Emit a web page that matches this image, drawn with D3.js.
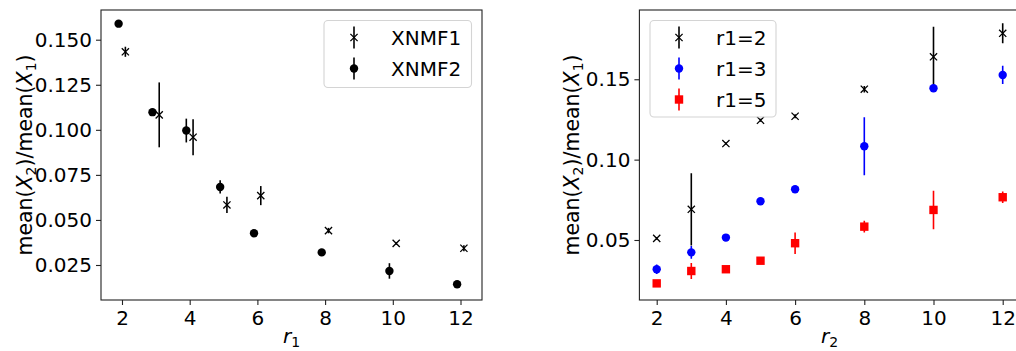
<!DOCTYPE html>
<html><head><meta charset="utf-8">
<script src="https://cdn.jsdelivr.net/npm/d3@7"></script>
<style>
html,body{margin:0;padding:0;background:#fff;}
svg{display:block;font-family:"DejaVu Sans",sans-serif;}
</style></head>
<body>
<svg id="c" width="1016" height="351"></svg>
<script>
// ---- Left panel data ----
const leftXTicks = [2, 4, 6, 8, 10, 12];
const leftYTicks = [0.025, 0.050, 0.075, 0.100, 0.125, 0.150];
const xnmf1X   = [2.1, 3.1, 4.1, 5.1, 6.1, 8.1, 10.1, 12.1];
const xnmf1Y   = [0.1433, 0.1083, 0.0959, 0.0583, 0.0635, 0.0441, 0.0370, 0.0343];
const xnmf1Err = [0.0028, 0.0180, 0.0100, 0.0045, 0.0053, 0.0015, 0.0008, 0.0017];
const xnmf2X   = [1.9, 2.9, 3.9, 4.9, 5.9, 7.9, 9.9, 11.9];
const xnmf2Y   = [0.1589, 0.1098, 0.0996, 0.0683, 0.0426, 0.0320, 0.0217, 0.0143];
const xnmf2Err = [0.0010, 0.0010, 0.0066, 0.0037, 0.0020, 0.0010, 0.0043, 0.0008];
const leftLegend = ["XNMF1", "XNMF2"];

// ---- Right panel data ----
const rightXTicks = [2, 4, 6, 8, 10, 12];
const rightYTicks = [0.05, 0.10, 0.15];
const r2Values = [2, 3, 4, 5, 6, 8, 10, 12];
const r1eq2Y   = [0.0510, 0.0691, 0.1100, 0.1245, 0.1270, 0.1438, 0.1640, 0.1786];
const r1eq2Err = [0.0008, 0.0225, 0.0008, 0.0010, 0.0012, 0.0020, 0.0187, 0.0062];
const r1eq3Y   = [0.0318, 0.0423, 0.0515, 0.0741, 0.0816, 0.1083, 0.1444, 0.1527];
const r1eq3Err = [0.0030, 0.0040, 0.0008, 0.0020, 0.0008, 0.0180, 0.0008, 0.0057];
const r1eq5Y   = [0.0230, 0.0307, 0.0318, 0.0371, 0.0480, 0.0583, 0.0687, 0.0766];
const r1eq5Err = [0.0008, 0.0050, 0.0010, 0.0010, 0.0067, 0.0037, 0.0120, 0.0036];
const rightLegend = ["r1=2", "r1=3", "r1=5"];

const svg = d3.select("#c");
const FS = 20;

function panel(opts) {
  const g = svg.append("g");
  const x = d3.scaleLinear().domain(opts.xDomain).range([opts.left, opts.right]);
  const y = d3.scaleLinear().domain(opts.yDomain).range([opts.bottom, opts.top]);
  const cid = "clip" + opts.id;
  svg.append("clipPath").attr("id", cid).append("rect")
    .attr("x", opts.left).attr("y", opts.top)
    .attr("width", opts.right - opts.left).attr("height", opts.bottom - opts.top);

  const xAxis = d3.axisBottom(x).tickValues(opts.xTicks).tickSize(5).tickPadding(4).tickFormat(d3.format("d"));
  const yAxis = d3.axisLeft(y).tickValues(opts.yTicks).tickSize(5).tickPadding(4).tickFormat(d3.format(opts.yFmt));
  const gx = g.append("g").attr("transform", `translate(0,${opts.bottom})`).call(xAxis);
  const gy = g.append("g").attr("transform", `translate(${opts.left},0)`).call(yAxis);
  [gx, gy].forEach(a => {
    a.select(".domain").remove();
    a.selectAll(".tick line").attr("stroke", "#222").attr("stroke-width", 1.1);
    a.selectAll(".tick text").attr("font-size", FS).attr("fill", "#000").attr("font-family", "DejaVu Sans");
  });
  gx.selectAll(".tick text").attr("dy", "0.78em");

  const marks = g.append("g").attr("clip-path", `url(#${cid})`);
  opts.series.forEach(s => {
    const sg = marks.append("g");
    s.x.forEach((xv, i) => {
      const cx = x(xv), cy = y(s.y[i]);
      sg.append("line").attr("x1", cx).attr("x2", cx)
        .attr("y1", y(s.y[i] - s.err[i])).attr("y2", y(s.y[i] + s.err[i]))
        .attr("stroke", s.color).attr("stroke-width", 1.6);
      drawMarker(sg, s.marker, cx, cy, s.color);
    });
  });

  g.append("rect").attr("x", opts.left).attr("y", opts.top)
    .attr("width", opts.right - opts.left).attr("height", opts.bottom - opts.top)
    .attr("fill", "none").attr("stroke", "#222").attr("stroke-width", 1.1);

  const yl = g.append("text").attr("font-size", FS + 0.5).attr("fill", "#000")
    .attr("text-anchor", "middle")
    .attr("transform", `translate(${opts.ylabelX},${(opts.top + opts.bottom) / 2}) rotate(-90)`);
  yl.append("tspan").text("mean(");
  yl.append("tspan").attr("font-style", "italic").text("X");
  yl.append("tspan").attr("font-size", FS * 0.7).attr("dy", 4).text("2");
  yl.append("tspan").attr("dy", -4).text(")/mean(");
  yl.append("tspan").attr("font-style", "italic").text("X");
  yl.append("tspan").attr("font-size", FS * 0.7).attr("dy", 4).text("1");
  yl.append("tspan").attr("dy", -4).text(")");

  const xl = g.append("text").attr("font-size", FS).attr("fill", "#000")
    .attr("text-anchor", "middle")
    .attr("x", opts.xlabelX).attr("y", 343);
  xl.append("tspan").attr("font-style", "italic").text("r");
  xl.append("tspan").attr("font-size", FS * 0.7).attr("dy", 4).text(opts.xsub);

  const L = opts.legend;
  const lg = g.append("g");
  lg.append("rect").attr("x", L.x).attr("y", L.y).attr("width", L.w).attr("height", L.h)
    .attr("rx", 4).attr("fill", "#fff").attr("fill-opacity", 0.8)
    .attr("stroke", "#d4d4d4").attr("stroke-width", 1.1);
  opts.series.forEach((s, i) => {
    const cy = L.y + 17 + i * 31;
    lg.append("line").attr("x1", L.mx).attr("x2", L.mx).attr("y1", cy - 11).attr("y2", cy + 11)
      .attr("stroke", s.color).attr("stroke-width", 1.6);
    drawMarker(lg, s.marker, L.mx, cy, s.color);
    lg.append("text").attr("x", L.tx).attr("y", cy).attr("dy", "0.36em")
      .attr("font-size", FS).attr("fill", "#000").text(s.name);
  });
}

function drawMarker(g, m, cx, cy, color) {
  if (m === "circle") {
    g.append("circle").attr("cx", cx).attr("cy", cy).attr("r", 4.2).attr("fill", color);
  } else if (m === "square") {
    g.append("rect").attr("x", cx - 4.2).attr("y", cy - 4.2).attr("width", 8.4).attr("height", 8.4).attr("fill", color);
  } else {
    const s = 3.6;
    g.append("path").attr("d", `M${cx - s},${cy - s}L${cx + s},${cy + s}M${cx - s},${cy + s}L${cx + s},${cy - s}`)
      .attr("stroke", color).attr("stroke-width", 1.3).attr("fill", "none");
  }
}

panel({
  id: "L", left: 101, right: 482, top: 10, bottom: 300,
  xDomain: [1.380, 12.635], yDomain: [0.00558, 0.16648],
  xTicks: leftXTicks, yTicks: leftYTicks, yFmt: ".3f",
  ylabelX: 32, xlabelX: 291.5, xsub: "1",
  series: [
    {name: leftLegend[0], x: xnmf1X, y: xnmf1Y, err: xnmf1Err, color: "#000", marker: "x"},
    {name: leftLegend[1], x: xnmf2X, y: xnmf2Y, err: xnmf2Err, color: "#000", marker: "circle"}
  ],
  legend: {x: 324, y: 20.5, w: 147.5, h: 67, mx: 354, tx: 391}
});

panel({
  id: "R", left: 639.4, right: 1020, top: 10, bottom: 300,
  xDomain: [1.5, 12.5], yDomain: [0.01266, 0.1931],
  xTicks: rightXTicks, yTicks: rightYTicks, yFmt: ".2f",
  ylabelX: 579, xlabelX: 829.7, xsub: "2",
  series: [
    {name: rightLegend[0], x: r2Values, y: r1eq2Y, err: r1eq2Err, color: "#000", marker: "x"},
    {name: rightLegend[1], x: r2Values, y: r1eq3Y, err: r1eq3Err, color: "#0000ff", marker: "circle"},
    {name: rightLegend[2], x: r2Values, y: r1eq5Y, err: r1eq5Err, color: "#ff0000", marker: "square"}
  ],
  legend: {x: 650, y: 20.5, w: 126, h: 96.5, mx: 679, tx: 716}
});
</script>
</body></html>
